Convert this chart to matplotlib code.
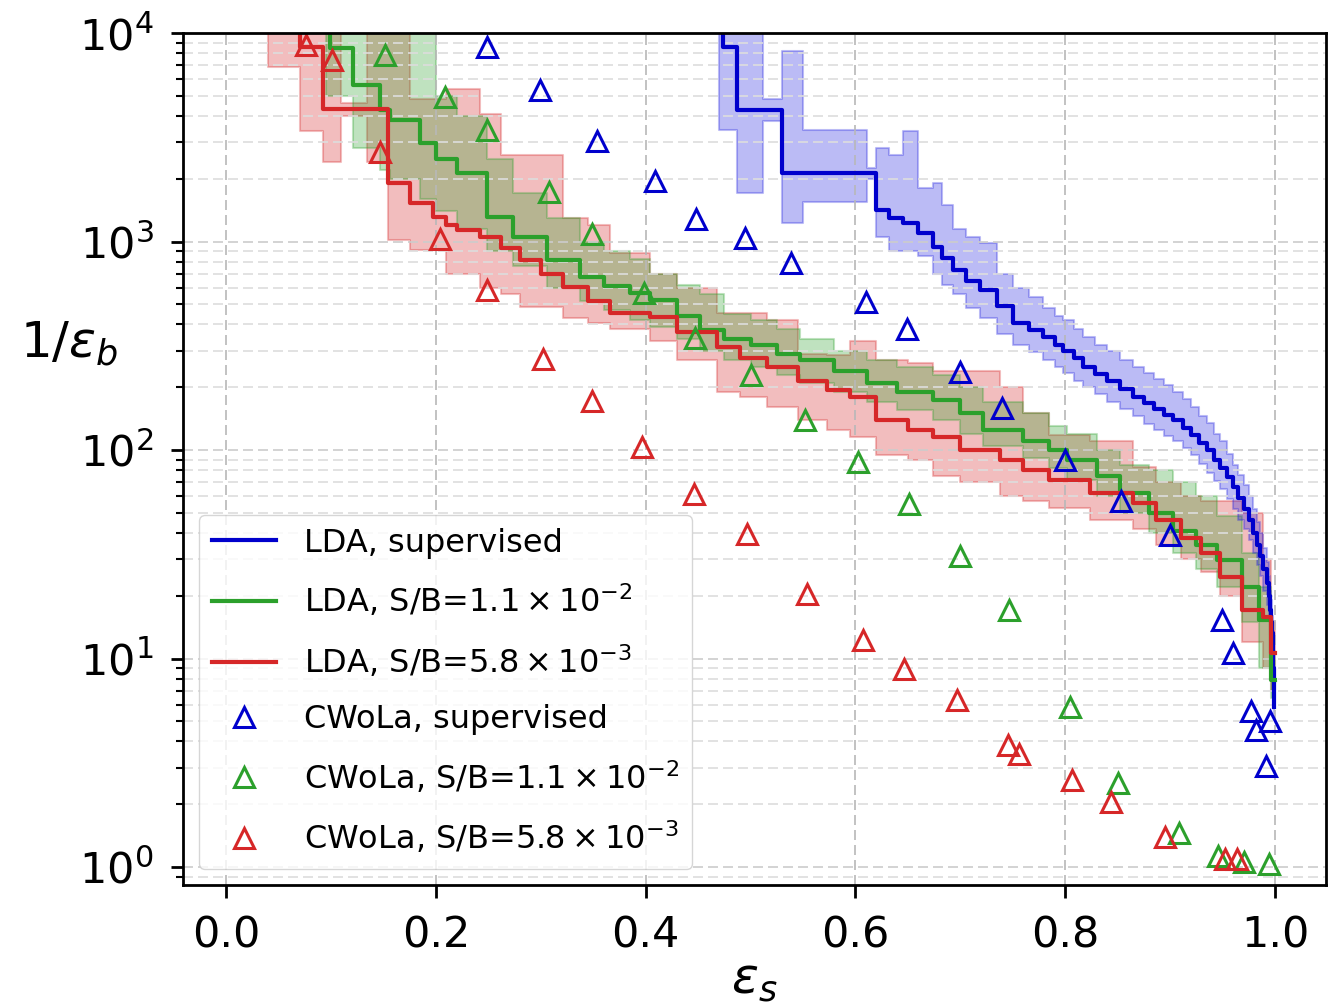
import numpy as np
import matplotlib
matplotlib.use('Agg')
import matplotlib.pyplot as plt

# LDA curves: step positions, central value, band low / high
blue_x = [0.470, 0.474, 0.487, 0.512, 0.530, 0.550, 0.611, 0.620, 0.632, 0.645, 0.660, 0.674, 0.683, 0.693,
          0.705, 0.719, 0.735, 0.750, 0.765, 0.779, 0.790, 0.798, 0.808, 0.817, 0.828, 0.840, 0.852, 0.865,
          0.875, 0.885, 0.894, 0.903, 0.912, 0.920, 0.928, 0.935, 0.942, 0.948, 0.954, 0.960, 0.965, 0.970,
          0.975, 0.979, 0.983, 0.986, 0.989, 0.992, 0.994, 0.995, 0.996, 0.997, 0.998, 0.9985, 0.9995]
blue_mid = [2e4, 8570, 4275, 4275, 2130, 2130, 2130, 1416, 1300, 1227, 1100, 941, 830, 730, 650, 585, 490, 406,
            375, 348, 320, 300, 275, 250, 232, 215, 197, 180, 168, 158, 148, 139, 128, 118, 108, 100, 90, 82,
            74, 66.5, 59, 52, 46, 40, 35, 31, 27, 23, 20, 17, 15, 13.3, 11, 9, 5.85]
blue_lo = [3430, 3430, 1710, 3800, 1230, 1540, 2000, 1050, 900, 900, 850, 700, 620, 560, 480, 430, 360, 320,
           295, 270, 250, 235, 215, 200, 185, 170, 158, 145, 134, 125, 117, 110, 102, 95, 86, 78, 71, 65,
           58, 52, 46, 42, 37, 32, 28, 25, 21, 18, 16, 13, 12, 10, 8.5, 7, 5.5]
blue_hi = [2e4, 2e4, 2e4, 4800, 8200, 3430, 2250, 2800, 2600, 3370, 1800, 1900, 1500, 1150, 1050, 980, 700, 600,
           540, 480, 440, 420, 380, 350, 320, 300, 270, 250, 235, 220, 205, 190, 175, 160, 146, 135, 120, 110,
           96, 85, 76, 68, 60, 52, 45, 40, 34, 29, 25, 21, 19, 16, 13, 11, 7]

green_x = [0.095, 0.099, 0.121, 0.147, 0.156, 0.185, 0.200, 0.220, 0.249, 0.274, 0.306, 0.337, 0.360, 0.385,
           0.404, 0.430, 0.452, 0.475, 0.500, 0.525, 0.547, 0.580, 0.611, 0.640, 0.674, 0.700, 0.722, 0.760,
           0.785, 0.802, 0.830, 0.852, 0.880, 0.903, 0.925, 0.945, 0.969, 0.985, 0.996, 1.000]
green_mid = [2e4, 8470, 5630, 4275, 3830, 2965, 2500, 2130, 1312, 1050, 815, 676, 610, 566, 524, 440, 377, 340,
             320, 290, 270, 240, 210, 190, 174, 150, 125, 110, 100, 90, 75, 62, 50, 41, 35, 29.7, 22, 15.3, 7.9, 7.9]
green_lo = [5000, 5000, 2800, 2200, 2000, 1600, 1400, 1150, 900, 760, 600, 520, 470, 420, 390, 340, 300, 270,
            250, 230, 210, 190, 170, 155, 140, 120, 105, 92, 82, 72, 60, 50, 40, 32, 27, 22, 15, 9, 6.5, 6.5]
green_hi = [2e4, 2e4, 2e4, 2e4, 2e4, 2e4, 5000, 4000, 2500, 1700, 1300, 1000, 900, 820, 700, 620, 560, 450,
            420, 380, 340, 300, 270, 250, 230, 200, 170, 150, 130, 120, 100, 85, 80, 70, 60, 48, 32, 22, 10, 10]

red_x = [0.040, 0.071, 0.092, 0.110, 0.134, 0.154, 0.175, 0.197, 0.210, 0.220, 0.242, 0.262, 0.280, 0.300,
         0.321, 0.345, 0.366, 0.404, 0.430, 0.468, 0.490, 0.516, 0.545, 0.573, 0.595, 0.620, 0.650, 0.674,
         0.700, 0.738, 0.760, 0.785, 0.824, 0.865, 0.887, 0.910, 0.929, 0.948, 0.969, 0.989, 0.996, 1.000]
red_mid = [2e4, 8600, 4300, 4300, 4300, 1900, 1530, 1310, 1200, 1130, 1050, 930, 815, 700, 605, 520, 454, 434,
           370, 312, 275, 250, 215, 194, 180, 139, 125, 115, 100, 90, 80, 72, 62, 55.7, 46, 38, 32, 24.6, 17.1,
           15.8, 10.6, 10.6]
red_lo = [6900, 3400, 2400, 4000, 2400, 1020, 910, 910, 700, 700, 600, 560, 485, 485, 430, 406, 380, 335,
          270, 190, 180, 160, 140, 125, 115, 95, 90, 75, 70, 60, 57, 53, 46, 42, 35, 30, 26, 20, 12, 9, 7, 7]
red_hi = [2e4, 2e4, 2e4, 4600, 2e4, 2e4, 4800, 4800, 5400, 5400, 4100, 2600, 2600, 2600, 1300, 1200, 880, 700,
          600, 454, 454, 420, 290, 285, 335, 270, 260, 240, 240, 200, 150, 118, 110, 83, 70, 60, 57, 57, 50,
          30, 15, 15]

# CWoLa points
cw_blue_x = [0.249, 0.299, 0.354, 0.409, 0.448, 0.495, 0.539, 0.610, 0.649, 0.700, 0.740, 0.800, 0.853,
             0.900, 0.949, 0.960, 0.977, 0.982, 0.995, 0.991]
cw_blue_y = [8570, 5330, 3034, 1950, 1282, 1040, 788, 513, 380, 237, 159, 89.6, 56.9, 39.1, 15.3, 10.6,
             5.6, 4.54, 5.0, 3.05]
cw_green_x = [0.152, 0.209, 0.249, 0.308, 0.349, 0.398, 0.447, 0.500, 0.552, 0.602, 0.651, 0.700, 0.746,
              0.805, 0.850, 0.908, 0.946, 0.970, 0.994]
cw_green_y = [7840, 4930, 3430, 1727, 1086, 566, 344, 229, 139, 87.6, 55.1, 31, 17.1, 5.86, 2.53, 1.46,
              1.13, 1.06, 1.03]
cw_red_x = [0.076, 0.101, 0.147, 0.204, 0.249, 0.302, 0.349, 0.397, 0.446, 0.497, 0.554, 0.607, 0.646,
            0.697, 0.745, 0.756, 0.806, 0.844, 0.895, 0.952, 0.964]
cw_red_y = [8760, 7420, 2690, 1028, 585, 273, 172, 103, 61.5, 39.6, 20.4, 12.3, 8.9, 6.3, 3.85, 3.48, 2.61,
            2.05, 1.39, 1.09, 1.09]

labels = ['LDA, supervised',
          r'LDA, S/B=$1.1\times10^{-2}$',
          r'LDA, S/B=$5.8\times10^{-3}$',
          'CWoLa, supervised',
          r'CWoLa, S/B=$1.1\times10^{-2}$',
          r'CWoLa, S/B=$5.8\times10^{-3}$']

c_blue = '#0000cc'
c_green = '#2ca02c'
c_red = '#d62728'

fig = plt.figure(figsize=(13.29, 10.07), dpi=100)
ax = fig.add_axes([183 / 1329, 122 / 1007, (1326 - 183) / 1329, (885 - 33) / 1007])

# bands
ax.fill_between(red_x, red_lo, red_hi, step='post', color=c_red, alpha=0.3, lw=1.5)
ax.fill_between(green_x, green_lo, green_hi, step='post', color=c_green, alpha=0.3, lw=1.5)
ax.fill_between(blue_x, blue_lo, blue_hi, step='post', color='#2020e0', alpha=0.3, lw=1.5)

h1, = ax.plot(blue_x, blue_mid, drawstyle='steps-post', color=c_blue, lw=3)
h2, = ax.plot(green_x, green_mid, drawstyle='steps-post', color=c_green, lw=3)
h3, = ax.plot(red_x, red_mid, drawstyle='steps-post', color=c_red, lw=3)

mk = dict(marker='^', ls='none', mfc='none', ms=15, mew=2.2)
h4, = ax.plot(cw_blue_x, cw_blue_y, mec=c_blue, **mk)
h5, = ax.plot(cw_green_x, cw_green_y, mec=c_green, **mk)
h6, = ax.plot(cw_red_x, cw_red_y, mec=c_red, **mk)

ax.set_yscale('log')
ax.set_xlim(-0.041, 1.0486)
ax.set_ylim(0.82, 1e4)
ax.set_xticks([0.0, 0.2, 0.4, 0.6, 0.8, 1.0])

ax.grid(True, which='major', axis='x', ls=(0, (6, 3)), color='#b8b8b8', lw=1.2)
ax.grid(True, which='major', axis='y', ls=(0, (6, 3)), color='#cccccc', lw=1.2)
ax.grid(True, which='minor', axis='y', ls=(0, (6, 3)), color='#dddddd', lw=1.2)

ax.tick_params(axis='x', which='major', labelsize=31, length=9, width=2, pad=12)
ax.tick_params(axis='y', which='major', labelsize=31, length=9, width=2, pad=12)
ax.tick_params(axis='y', which='minor', length=5, width=1.5)
for s in ax.spines.values():
    s.set_linewidth(2)

ax.set_xlabel(r'$\epsilon_s$', fontsize=36, labelpad=0)
ax.set_ylabel(r'$1/\epsilon_b$', fontsize=36, rotation=0, ha='center', va='center')
ax.yaxis.set_label_coords(-0.10, 0.635)

ax.legend([h1, h2, h3, h4, h5, h6], labels, loc='lower left', fontsize=23, numpoints=1,
          labelspacing=0.75, handletextpad=0.9)

fig.savefig('out.png', dpi=100)
